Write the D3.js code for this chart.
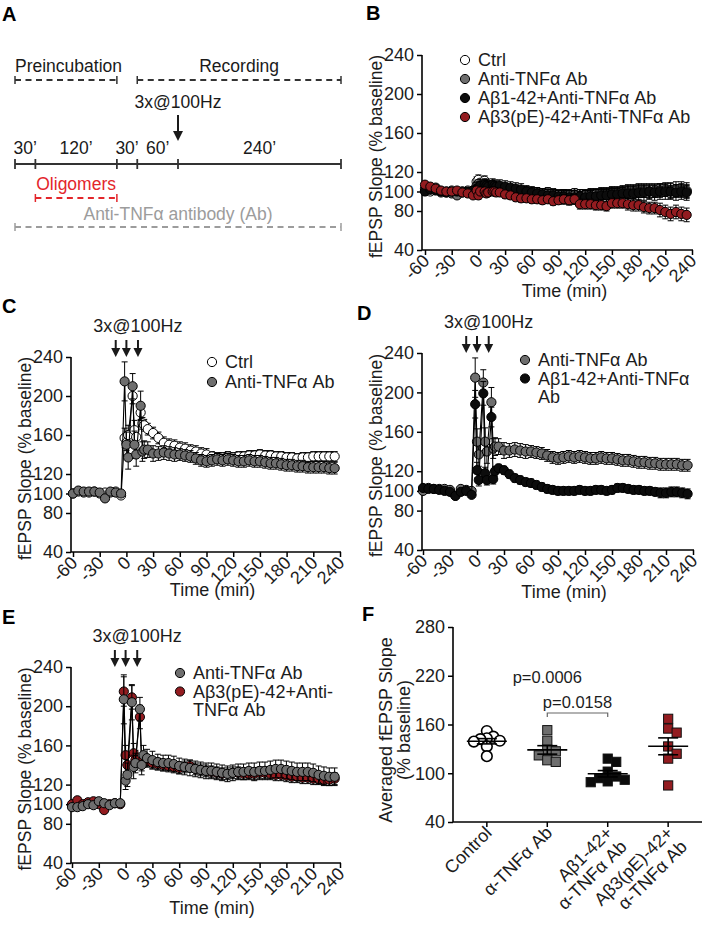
<!DOCTYPE html>
<html><head><meta charset="utf-8">
<script src="https://cdn.jsdelivr.net/npm/d3@7"></script>
<style>body{margin:0;background:#fff}</style>
</head><body>
<svg id="c" width="709" height="927" xmlns="http://www.w3.org/2000/svg"></svg>
<script>
// ---------------- DATA ----------------
const T = [-60,-54,-48,-42,-36,-30,-24,-18,-12,-6,
  -2,0,2,7,9,11,16,18,20,
  24,30,36,42,48,54,60,66,72,78,84,90,96,102,108,114,120,126,132,138,144,150,156,162,168,174,180,186,192,198,204,210,216,222,228,234];
const xTicks = [-60,-30,0,30,60,90,120,150,180,210,240];
const yTicks = [40,80,100,120,160,200,240];
const tetanusTimes = [-12,0,13];

// Panel B (no stimulation)
const B_ctrl = [101,100,102,99,100,101,99,100,101,99,
  110,112,109,111,108,106,104,103,104,
  103,102,102,101,100,100,99,99,98,99,98,97,97,96,97,96,96,97,97,98,98,99,99,100,100,100,101,101,100,101,101,102,101,102,102,101];
const B_ctrlErr = [3,3,3,3,3,3,3,3,3,3, 5,5,5,5,5,5,5,5,5,
  5,5,5,5,5,5,5,5,5,5,5,5,5,6,6,6,6,6,6,6,6,6,6,6,7,7,7,7,7,7,7,7,8,8,8,8];
const B_grey = [103,102,104,100,99,98,96,100,99,101,
  106,108,105,108,104,103,103,102,103,
  103,102,101,100,99,99,98,98,97,98,97,97,96,96,96,95,96,96,97,97,97,98,98,99,99,99,100,100,100,100,101,101,100,101,101,100];
const B_greyErr = [3,3,3,3,3,3,3,3,3,3, 4,4,4,4,4,4,4,4,4,
  4,4,4,4,4,4,4,4,4,4,4,4,5,5,5,5,5,5,5,5,5,5,5,5,6,6,6,6,6,6,6,6,6,6,6,6];
const B_black = [100,102,101,100,99,100,100,99,100,101,
  103,104,106,107,106,105,107,106,105,
  106,105,104,103,102,100,99,98,97,96,96,95,95,94,94,95,94,95,95,96,96,97,97,98,98,98,99,99,100,99,100,100,100,99,100,99];
const B_blackErr = [4,4,4,4,4,4,4,4,4,4, 6,6,6,6,6,6,6,6,6,
  6,6,6,6,6,6,6,6,6,6,6,6,7,7,7,7,7,7,7,7,7,7,7,7,8,8,8,8,8,8,8,8,8,8,8,8];
const B_red = [107,105,103,101,100,100,101,99,98,96,
  101,96,100,100,98,99,100,100,99,
  99,97,96,94,93,93,92,92,91,92,90,91,92,91,92,87,87,87,86,86,85,88,88,88,87,86,86,84,83,83,81,79,77,79,77,76];
const B_redErr = [3,3,3,3,3,3,3,3,3,3, 4,4,4,4,4,4,4,4,4,
  4,4,4,4,4,4,4,4,4,4,4,4,5,5,5,5,5,5,5,5,5,5,5,5,6,6,6,6,6,6,7,7,7,7,7,7];

// Panel C
const C_ctrl = [100,102,101,101,102,100,101,101,102,98,
  157,152,160,200,165,158,183,172,170,
  166,162,157,152,150,149,147,146,144,143,141,140,138,137,137,138,137,138,138,139,139,140,139,139,138,138,137,137,136,137,137,138,138,138,138,138];
const C_ctrlErr = [2,2,2,2,2,2,2,2,2,2, 10,8,10,8,10,8,7,6,6,
  6,6,6,6,6,6,6,6,6,6,6,6,5,5,5,5,5,5,5,5,5,5,5,5,5,5,5,5,5,5,5,5,5,5,5,5];
// Anti-TNFα Ab group (panels C and D)
const antiTNF = [100,103,102,102,102,101,95,102,101,100,
  215,150,137,210,150,140,190,143,145,
  145,141,141,142,141,140,140,139,138,136,134,133,134,135,134,135,134,133,133,134,133,133,132,131,131,130,129,129,128,128,127,127,127,127,126,126];
const antiTNFErr = [2,2,2,2,2,2,3,2,2,2, 20,13,12,13,14,12,15,10,9,
  8,8,7,7,7,7,6,6,6,6,6,6,6,6,6,6,6,6,6,6,6,6,6,6,6,6,6,6,6,6,6,6,6,6,6,6];
// Panel D
const D_black = [103,102,102,101,100,99,95,99,100,96,
  188,121,111,199,118,111,175,112,120,
  123,121,117,113,111,109,108,106,104,102,101,100,100,100,100,101,100,100,101,101,100,101,103,103,102,101,101,100,100,99,98,98,99,99,98,97];
const D_blackErr = [2,2,2,2,2,2,2,2,2,2, 14,8,6,12,6,5,10,5,5,
  4,4,4,4,4,4,4,4,4,4,4,4,4,4,4,4,4,4,4,4,4,4,4,4,4,4,4,4,4,4,5,5,5,5,5,5];
// Panel E
const E_grey = [97,97,98,100,99,103,101,99,101,101,
  207,124,130,204,138,142,197,140,150,
  147,145,143,142,142,141,139,138,137,136,135,134,134,133,132,131,132,133,133,134,133,134,134,135,136,136,135,134,133,133,133,132,130,129,128,128];
const E_greyErr = [3,3,3,3,3,3,3,3,3,3, 25,9,12,18,12,10,12,10,10,
  9,9,8,8,8,8,8,8,8,8,8,8,8,8,8,8,8,8,8,8,9,9,9,9,9,9,9,9,9,9,9,9,9,9,9,9];
const E_red = [100,104,100,102,103,100,94,100,101,100,
  215,150,140,209,152,145,189,142,146,
  144,142,141,140,139,138,137,138,139,136,135,134,133,132,131,131,132,132,131,131,131,132,132,131,130,130,129,128,128,127,127,126,126,125,125,126];
const E_redErr = [3,3,3,3,3,3,3,3,3,3, 15,10,10,12,10,10,12,8,8,
  6,6,6,6,6,6,6,6,6,6,6,6,6,6,6,6,6,6,6,6,6,6,6,6,6,6,6,6,6,6,6,6,6,6,6,6];

// Panel F (averaged fEPSP slope, individual slices)
const F_categories = [["Control"],["α-TNFα Ab"],["Aβ1-42+","α-TNFα Ab"],["Aβ3(pE)-42+","α-TNFα Ab"]];
const F_control = [152,145,143,142,140,139,133,121];
const F_antiTNF = [153,140,129,127,122,116,114];
const F_ab142 = [118,114,102,96,94,92,90,89];
const F_ab3pE = [167,155,150,133,124,118,85];
const F_yTicks = [40,100,160,220,280];
const F_pLabels = ["p=0.0006","p=0.0158"];

// Panel A (protocol)
const A_segMinutes = [30,120,30,60,240];
const A_segLabels = ["30’","120’","30’","60’","240’"];
const A_phaseNames = ["Preincubation","Recording"];
const A_phaseStart = [0,180];
const A_phaseEnd = [150,480];
const A_treatNames = ["Oligomers","Anti-TNFα antibody (Ab)"];
const A_treatStart = [30,0];
const A_treatEnd = [150,480];
const A_stimTime = 240;
const stimLabel = "3x@100Hz";

// ---------------- DRAWING ----------------
const FONT = '"Liberation Sans", Arial, Helvetica, sans-serif';
const TXT = "#1c1c1c";
const COL = {ctrl:"#ffffff", grey:"#6e6e6e", black:"#0c0c0c", red:"#931c20", aRed:"#e3262b", aGrey:"#9c9c9c", ink:"#1a1a1a"};
const svg = d3.select("#c").attr("font-family", FONT);
const fmt = d => String(d);

function panelLabel(t, x, y) {
  svg.append("text").attr("x", x).attr("y", y).attr("font-size", 20).attr("font-weight", "bold").attr("fill", "#000").text(t);
}

function arrowDown(g, x, yTop, yTip, head) {
  g.append("line").attr("x1", x).attr("x2", x).attr("y1", yTop).attr("y2", yTip - head + 1)
    .attr("stroke", COL.ink).attr("stroke-width", 2);
  g.append("path").attr("d", `M${x - head/2},${yTip - head} L${x + head/2},${yTip - head} L${x},${yTip} Z`).attr("fill", COL.ink);
}

// ---- Panel A ----
(function drawA() {
  const g = svg.append("g");
  const cum = [0];
  A_segMinutes.forEach(m => cum.push(cum[cum.length - 1] + m));
  const xA = d3.scaleLinear().domain([0, cum[cum.length - 1]]).range([15, 341]);
  const fs = 17.5;
  function dashed(x1, x2, y, color) {
    g.append("line").attr("x1", x1).attr("x2", x2).attr("y1", y).attr("y2", y)
      .attr("stroke", color).attr("stroke-width", 1.8).attr("stroke-dasharray", "6,4.5");
    [x1, x2].forEach(xx => g.append("line").attr("x1", xx).attr("x2", xx).attr("y1", y - 4).attr("y2", y + 4)
      .attr("stroke", color).attr("stroke-width", 1.5));
  }
  A_phaseNames.forEach((n, i) => {
    const x1 = xA(A_phaseStart[i]), x2 = xA(A_phaseEnd[i]);
    g.append("text").attr("x", i === 0 ? x1 : (x1 + x2) / 2).attr("y", 72)
      .attr("text-anchor", i === 0 ? "start" : "middle").attr("font-size", fs).attr("fill", COL.ink).text(n);
    dashed(x1, x2, 80, "#333");
  });
  g.append("text").attr("x", xA(A_stimTime)).attr("y", 108).attr("text-anchor", "middle")
    .attr("font-size", fs).attr("fill", COL.ink).text(stimLabel);
  arrowDown(g, xA(A_stimTime), 115, 141, 10);
  g.append("line").attr("x1", xA(0)).attr("x2", xA(cum[cum.length - 1])).attr("y1", 164).attr("y2", 164)
    .attr("stroke", "#333").attr("stroke-width", 2);
  g.selectAll(null).data(cum).join("line").attr("x1", d => xA(d)).attr("x2", d => xA(d))
    .attr("y1", 159).attr("y2", 169).attr("stroke", "#333").attr("stroke-width", 1.8);
  g.selectAll(null).data(A_segLabels).join("text")
    .attr("x", (d, i) => xA((cum[i] + cum[i + 1]) / 2)).attr("y", 154).attr("text-anchor", "middle")
    .attr("font-size", fs).attr("fill", COL.ink).text(d => d);
  const tCols = [COL.aRed, COL.aGrey];
  const tY = [190, 220], dY = [198, 227];
  A_treatNames.forEach((n, i) => {
    const x1 = xA(A_treatStart[i]), x2 = xA(A_treatEnd[i]);
    g.append("text").attr("x", (x1 + x2) / 2).attr("y", tY[i]).attr("text-anchor", "middle")
      .attr("font-size", fs).attr("fill", tCols[i]).text(n);
    dashed(x1, x2, dY[i], tCols[i]);
  });
})();

// ---- Time-course panels ----
function timePanel(o) {
  const g = svg.append("g");
  const x = d3.scaleLinear().domain([-60, 240]).range([o.x0, o.x1]);
  const y = d3.scaleLinear().domain([40, 240]).range([o.yb, o.yt]);
  const fs = 18;
  const ya = g.append("g").attr("transform", `translate(${o.ax},0)`)
    .call(d3.axisLeft(y).tickValues(yTicks).tickFormat(fmt).tickSize(5).tickPadding(3).tickSizeOuter(0));
  ya.select(".domain").remove();
  ya.attr("font-size", fs).attr("font-family", FONT);
  ya.selectAll("line").attr("stroke", "#000").attr("stroke-width", 1.5);
  ya.selectAll("text").attr("fill", TXT);
  g.append("line").attr("x1", o.ax).attr("x2", o.ax).attr("y1", o.yb).attr("y2", o.yt)
    .attr("stroke", "#000").attr("stroke-width", 1.6);
  const xa = g.append("g").attr("transform", `translate(0,${o.yb})`)
    .call(d3.axisBottom(x).tickValues(xTicks).tickFormat(fmt).tickSize(5).tickSizeOuter(0));
  xa.select(".domain").remove();
  xa.attr("font-size", fs).attr("font-family", FONT);
  xa.selectAll("line").attr("stroke", "#000").attr("stroke-width", 1.5);
  xa.selectAll("text").attr("fill", TXT).attr("x", 0).attr("y", 0).attr("dy", 0)
    .attr("transform", "translate(5,12) rotate(-45)").style("text-anchor", "end");
  g.append("line").attr("x1", o.ax).attr("x2", o.x1 + 1).attr("y1", o.yb).attr("y2", o.yb)
    .attr("stroke", "#000").attr("stroke-width", 1.6);
  g.append("text").attr("transform", `translate(${o.yTitleX},${(o.yt + o.yb) / 2 + 4}) rotate(-90)`)
    .attr("text-anchor", "middle").attr("dominant-baseline", "central").attr("font-size", 17.5).attr("fill", TXT)
    .text("fEPSP Slope (% baseline)");
  g.append("text").attr("x", (o.x0 + o.x1) / 2 + 6).attr("y", o.xTitleY).attr("text-anchor", "middle")
    .attr("font-size", fs).attr("fill", TXT).text("Time (min)");
  o.series.forEach(s => {
    const pts = T.map((t, i) => ({t: t, v: s.v[i], e: s.e[i]}));
    const eg = g.append("g").attr("stroke", "#000").attr("stroke-width", 1);
    eg.selectAll(null).data(pts).join("line").attr("x1", d => x(d.t)).attr("x2", d => x(d.t))
      .attr("y1", d => y(d.v - d.e)).attr("y2", d => y(d.v + d.e));
    eg.selectAll(null).data(pts).join("line").attr("x1", d => x(d.t) - 3).attr("x2", d => x(d.t) + 3)
      .attr("y1", d => y(d.v + d.e)).attr("y2", d => y(d.v + d.e));
    eg.selectAll(null).data(pts).join("line").attr("x1", d => x(d.t) - 3).attr("x2", d => x(d.t) + 3)
      .attr("y1", d => y(d.v - d.e)).attr("y2", d => y(d.v - d.e));
    g.append("path").datum(pts).attr("d", d3.line().x(d => x(d.t)).y(d => y(d.v)))
      .attr("fill", "none").attr("stroke", "#000").attr("stroke-width", 1.1);
    g.selectAll(null).data(pts).join("circle").attr("cx", d => x(d.t)).attr("cy", d => y(d.v)).attr("r", 4.6)
      .attr("fill", s.fill).attr("stroke", "#000").attr("stroke-width", 1);
  });
  if (o.arrows) {
    tetanusTimes.forEach(t => arrowDown(g, x(t), o.yt - 17, o.yt, 9));
    g.append("text").attr("x", x(tetanusTimes[2])).attr("y", o.yt - 25).attr("text-anchor", "middle")
      .attr("font-size", fs).attr("fill", TXT).text(stimLabel);
  }
  let ly = o.legend.y0;
  o.legend.items.forEach(it => {
    g.append("circle").attr("cx", o.legend.x).attr("cy", ly).attr("r", 4.6)
      .attr("fill", it.fill).attr("stroke", "#000").attr("stroke-width", 1);
    it.lines.forEach((ln, j) => {
      g.append("text").attr("x", o.legend.x + 13).attr("y", ly + j * o.legend.dy).attr("dominant-baseline", "central")
        .attr("font-size", fs).attr("fill", TXT).text(ln);
    });
    ly += it.lines.length * o.legend.dy;
  });
}

timePanel({ax: 422, x0: 425, x1: 692, yt: 55, yb: 250, yTitleX: 376, xTitleY: 297,
  series: [
    {v: B_ctrl, e: B_ctrlErr, fill: COL.ctrl},
    {v: B_grey, e: B_greyErr, fill: COL.grey},
    {v: B_black, e: B_blackErr, fill: COL.black},
    {v: B_red, e: B_redErr, fill: COL.red}],
  legend: {x: 465, y0: 60, dy: 19, items: [
    {fill: COL.ctrl, lines: ["Ctrl"]},
    {fill: COL.grey, lines: ["Anti-TNFα Ab"]},
    {fill: COL.black, lines: ["Aβ1-42+Anti-TNFα Ab"]},
    {fill: COL.red, lines: ["Aβ3(pE)-42+Anti-TNFα Ab"]}]}});

timePanel({ax: 71, x0: 73, x1: 340, yt: 357, yb: 552, yTitleX: 25, xTitleY: 596, arrows: true,
  series: [
    {v: C_ctrl, e: C_ctrlErr, fill: COL.ctrl},
    {v: antiTNF, e: antiTNFErr, fill: COL.grey}],
  legend: {x: 212, y0: 362, dy: 20, items: [
    {fill: COL.ctrl, lines: ["Ctrl"]},
    {fill: COL.grey, lines: ["Anti-TNFα Ab"]}]}});

timePanel({ax: 422, x0: 423, x1: 693, yt: 353, yb: 550, yTitleX: 376, xTitleY: 598, arrows: true,
  series: [
    {v: antiTNF, e: antiTNFErr, fill: COL.grey},
    {v: D_black, e: D_blackErr, fill: COL.black}],
  legend: {x: 525, y0: 360, dy: 18.5, items: [
    {fill: COL.grey, lines: ["Anti-TNFα Ab"]},
    {fill: COL.black, lines: ["Aβ1-42+Anti-TNFα", "Ab"]}]}});

timePanel({ax: 71, x0: 72, x1: 340, yt: 667, yb: 863, yTitleX: 25, xTitleY: 914, arrows: true,
  series: [
    {v: E_red, e: E_redErr, fill: COL.red},
    {v: E_grey, e: E_greyErr, fill: COL.grey}],
  legend: {x: 180, y0: 673, dy: 18.5, items: [
    {fill: COL.grey, lines: ["Anti-TNFα Ab"]},
    {fill: COL.red, lines: ["Aβ3(pE)-42+Anti-", "TNFα Ab"]}]}});

// ---- Panel F ----
(function drawF() {
  const g = svg.append("g");
  const groups = [
    {vals: F_control, shape: "circle", fill: "#fff"},
    {vals: F_antiTNF, shape: "square", fill: "#6e6e6e"},
    {vals: F_ab142, shape: "square", fill: "#0c0c0c"},
    {vals: F_ab3pE, shape: "square", fill: COL.red}];
  const x = d3.scalePoint().domain(d3.range(4)).range([453, 702]).padding(0.56);
  const y = d3.scaleLinear().domain([40, 280]).range([822, 627]);
  const fs = 18;
  const ya = g.append("g").attr("transform", "translate(453,0)")
    .call(d3.axisLeft(y).tickValues(F_yTicks).tickFormat(fmt).tickSize(5).tickPadding(3).tickSizeOuter(0));
  ya.select(".domain").remove();
  ya.attr("font-size", fs).attr("font-family", FONT);
  ya.selectAll("line").attr("stroke", "#000").attr("stroke-width", 1.5);
  ya.selectAll("text").attr("fill", TXT);
  g.append("line").attr("x1", 453).attr("x2", 453).attr("y1", 822).attr("y2", 627).attr("stroke", "#000").attr("stroke-width", 1.6);
  g.append("line").attr("x1", 453).attr("x2", 702).attr("y1", 822).attr("y2", 822).attr("stroke", "#000").attr("stroke-width", 1.6);
  F_categories.forEach((lab, i) => {
    const cx = x(i);
    g.append("line").attr("x1", cx).attr("x2", cx).attr("y1", 822).attr("y2", 827).attr("stroke", "#000").attr("stroke-width", 1.5);
    const t = g.append("text").attr("transform", `translate(${cx + 6},${834}) rotate(-45)`)
      .attr("text-anchor", "end").attr("font-size", fs).attr("fill", TXT);
    lab.forEach((ln, j) => t.append("tspan").attr("x", 0).attr("dy", j === 0 ? 0 : "1.1em").text(ln));
  });
  g.append("text").attr("transform", `translate(386,730) rotate(-90)`).attr("text-anchor", "middle")
    .attr("dominant-baseline", "central").attr("font-size", fs).attr("fill", TXT).text("Averaged fEPSP Slope");
  g.append("text").attr("transform", `translate(404,730) rotate(-90)`).attr("text-anchor", "middle")
    .attr("dominant-baseline", "central").attr("font-size", fs).attr("fill", TXT).text("(% baseline)");
  groups.forEach((gr, i) => {
    const cx = x(i);
    const placed = [];
    const minD = gr.shape === "circle" ? 6.5 : 8.5, step = minD;
    gr.vals.forEach(v => {
      const py = y(v);
      let off = 0;
      for (let k = 0; k < 20; k++) {
        const cand = k === 0 ? 0 : (k % 2 ? 1 : -1) * Math.ceil(k / 2) * step;
        if (placed.every(p => Math.hypot(p.x - cand, p.y - py) >= minD)) { off = cand; break; }
      }
      placed.push({x: off, y: py});
    });
    placed.forEach(p => {
      if (gr.shape === "circle") {
        g.append("circle").attr("cx", cx + p.x).attr("cy", p.y).attr("r", 5.3)
          .attr("fill", gr.fill).attr("stroke", "#000").attr("stroke-width", 1.6);
      } else {
        g.append("rect").attr("x", cx + p.x - 4.6).attr("y", p.y - 4.6).attr("width", 9.2).attr("height", 9.2)
          .attr("fill", gr.fill).attr("stroke", "#111").attr("stroke-width", 1);
      }
    });
    const m = d3.mean(gr.vals), sem = d3.deviation(gr.vals) / Math.sqrt(gr.vals.length);
    const lg = g.append("g").attr("stroke", "#000").attr("stroke-width", 1.6);
    lg.append("line").attr("x1", cx - 20).attr("x2", cx + 20).attr("y1", y(m)).attr("y2", y(m));
    lg.append("line").attr("x1", cx).attr("x2", cx).attr("y1", y(m - sem)).attr("y2", y(m + sem));
    lg.append("line").attr("x1", cx - 10).attr("x2", cx + 10).attr("y1", y(m - sem)).attr("y2", y(m - sem));
    lg.append("line").attr("x1", cx - 10).attr("x2", cx + 10).attr("y1", y(m + sem)).attr("y2", y(m + sem));
  });
  g.append("text").attr("x", x(1)).attr("y", 683).attr("text-anchor", "middle").attr("font-size", 16.5).attr("fill", TXT).text(F_pLabels[0]);
  g.append("text").attr("x", (x(1) + x(2)) / 2).attr("y", 708).attr("text-anchor", "middle").attr("font-size", 16.5).attr("fill", TXT).text(F_pLabels[1]);
  g.append("path").attr("d", `M${x(1)},717 V713 H${x(2)} V717`).attr("fill", "none").attr("stroke", "#666").attr("stroke-width", 1.2);
})();

panelLabel("A", 2, 21);
panelLabel("B", 366, 20);
panelLabel("C", 2, 313);
panelLabel("D", 357, 320);
panelLabel("E", 2, 624);
panelLabel("F", 362, 621);
</script>
</body></html>
